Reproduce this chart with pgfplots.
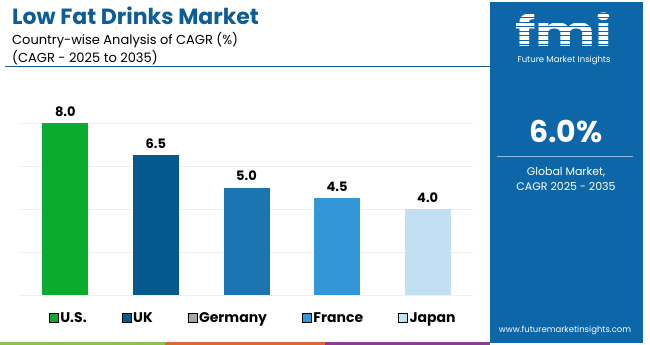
\documentclass[border=0pt]{standalone}
\usepackage{fontspec}
\setmainfont{Poppins}
\usepackage{pgfplots}
\pgfplotsset{compat=1.18}
\definecolor{cus}{HTML}{0AAB2E}
\definecolor{cuk}{HTML}{045A8D}
\definecolor{cde}{HTML}{1B75B0}
\definecolor{cfr}{HTML}{3396D6}
\definecolor{cjp}{HTML}{C2E0F2}
\definecolor{cgray}{HTML}{A6A6A6}
\definecolor{titleblue}{HTML}{0E5D97}
\definecolor{panel}{HTML}{0D66A8}
\definecolor{sgreen}{HTML}{8DC050}
\definecolor{sorange}{HTML}{E0653A}
\definecolor{spurple}{HTML}{8B3A96}
\begin{document}
\begin{tikzpicture}[x=1pt,y=1pt]
\fill[white] (0,0) rectangle (650,345);
\fill[panel] (490,2) rectangle (643,343);
\fill[sgreen] (0,0) rectangle (165,3);
\fill[sorange] (165,0) rectangle (325,3);
\fill[spurple] (325,0) rectangle (490,3);
\node[anchor=base west, font=\bfseries\fontsize{22}{26}\selectfont, text=titleblue, inner sep=0] at (12,320) {Low Fat Drinks Market};
\node[anchor=base west, font=\fontsize{13}{15}\selectfont, inner sep=0] at (12,300) {Country-wise Analysis of CAGR (\%)};
\node[anchor=base west, font=\fontsize{13}{15}\selectfont, inner sep=0] at (12,282) {(CAGR - 2025 to 2035)};
\draw[titleblue, line width=0.8pt] (5,279) -- (490,279);
% right panel
\node[anchor=base, font=\bfseries\fontsize{42}{42}\selectfont, text=white, inner sep=0, text depth=0pt, xscale=1.35] at (564,298) {fmi};
\foreach \yy in {300,304.5,...,334} {\draw[panel, line width=1pt] (505,\yy) -- (628,\yy);}
\node[anchor=base, font=\fontsize{8.5}{10}\selectfont, text=white, inner sep=0] at (564,282) {Future Market Insights};
\node[font=\bfseries\fontsize{30}{32}\selectfont, text=white, inner sep=0] at (566,214) {6.0\%};
\draw[white!55!panel, line width=1pt] (497,188) -- (633,188);
\node[font=\fontsize{11}{13}\selectfont, text=white, inner sep=0] at (566,173) {Global Market,};
\node[font=\fontsize{11}{13}\selectfont, text=white, inner sep=0] at (566,159) {CAGR 2025 - 2035};
\node[font=\fontsize{8.5}{10}\selectfont, text=white, inner sep=0] at (565,15) {www.futuremarketinsights.com};
\begin{axis}[
  at={(65.3pt,50pt)}, anchor=origin,
  scale only axis, width=453pt, height=172pt,
  xmin=-0.5, xmax=4.5, ymin=0, ymax=8,
  clip=false,
  axis line style={draw=none},
  xtick=\empty, ytick={0,2,4,6,8}, yticklabels={},
  tick style={draw=none},
  ymajorgrids, grid style={gray!12, line width=0.6pt},
  /pgf/number format/assume math mode=true,
  /pgf/number format/fixed, /pgf/number format/fixed zerofill, /pgf/number format/precision=1,
  nodes near coords,
  nodes near coords style={font=\bfseries\fontsize{13}{15}\selectfont, yshift=3pt},
  legend columns=5,
  legend style={at={(0.515,-0.134)}, anchor=center, draw=none, fill=none,
    font=\bfseries\fontsize{14}{16}\selectfont,
    /tikz/every even column/.append style={column sep=33pt}},
  legend image code/.code={\fill[#1] (0pt,-4.5pt) rectangle (9pt,4.5pt);},
]
\addplot[ybar, bar width=46pt, fill=cus, draw=none, forget plot] coordinates {(0,8.0)};
\addplot[ybar, bar width=46pt, fill=cuk, draw=none, forget plot] coordinates {(1,6.5)};
\addplot[ybar, bar width=46pt, fill=cde, draw=none, forget plot] coordinates {(2,5.0)};
\addplot[ybar, bar width=46pt, fill=cfr, draw=none, forget plot] coordinates {(3,4.5)};
\addplot[ybar, bar width=46pt, fill=cjp, draw=none, forget plot] coordinates {(4,4.0)};
\addlegendimage{fill=cus}
\addlegendentry{U.S.}
\addlegendimage{fill=cuk}
\addlegendentry{UK}
\addlegendimage{fill=cgray}
\addlegendentry{Germany}
\addlegendimage{fill=cfr}
\addlegendentry{France}
\addlegendimage{fill=cjp}
\addlegendentry{Japan}
\end{axis}
\end{tikzpicture}
\end{document}
